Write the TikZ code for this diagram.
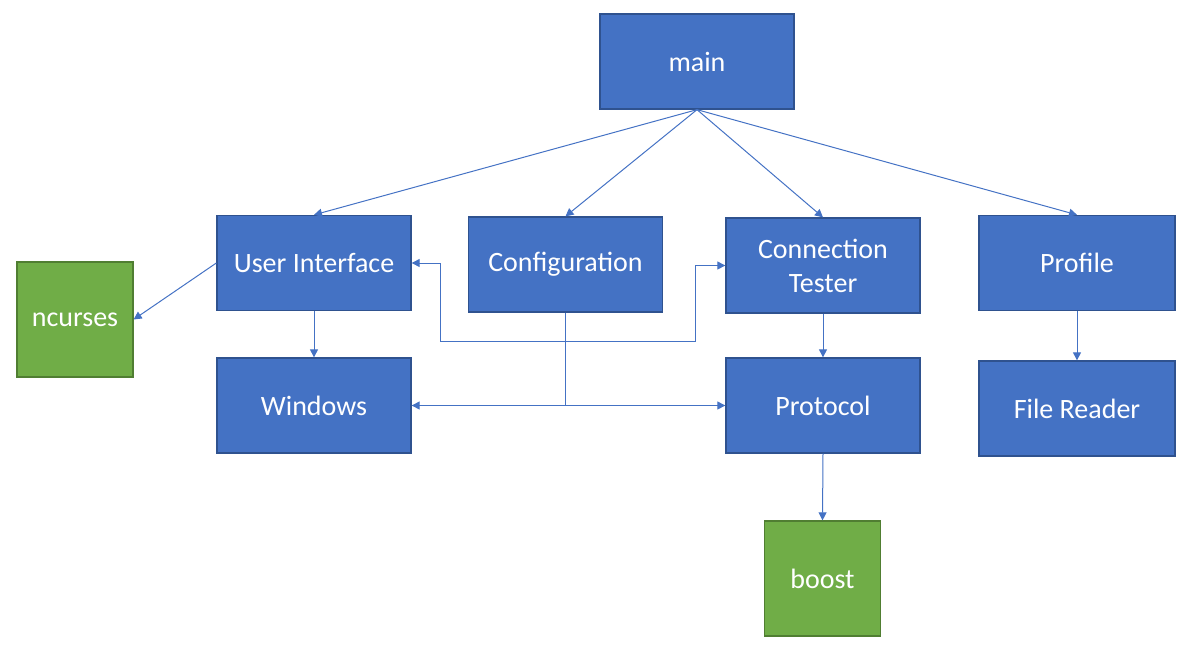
\documentclass[tikz,border=0pt]{standalone}
\usepackage{fontspec}
\setmainfont{Carlito}
\usetikzlibrary{arrows.meta}
\definecolor{bfill}{HTML}{4472C4}
\definecolor{bdraw}{HTML}{2F528F}
\definecolor{gfill}{HTML}{70AD47}
\definecolor{gdraw}{HTML}{507E32}
\begin{document}
\begin{tikzpicture}[x=1pt,y=-1pt,
  bluebox/.style={draw=bdraw,fill=bfill,line width=1.3pt,text=white,minimum width=194pt,minimum height=95pt,inner sep=0pt,align=center,font=\fontsize{28}{34}\selectfont},
  greenbox/.style={draw=gdraw,fill=gfill,line width=1.3pt,text=white,minimum width=116pt,minimum height=115pt,inner sep=0pt,align=center,font=\fontsize{28}{34}\selectfont},
  conn/.style={draw=bfill,line width=1pt,-{Triangle[length=8pt,width=8pt]}},
  conn2/.style={draw=bfill,line width=1pt,{Triangle[length=8pt,width=8pt]}-{Triangle[length=8pt,width=8pt]}},
  plain/.style={draw=bfill,line width=1pt}]
\useasboundingbox (0,0) rectangle (1200,646);
\node[bluebox] (main) at (697,61.5) {main};
\node[bluebox] (ui) at (314,263) {User Interface};
\node[bluebox] (cfg) at (565.5,264.5) {Configuration};
\node[bluebox] (ct) at (823,265.5) {Connection\\Tester};
\node[bluebox,minimum width=196pt] (prof) at (1077,263) {Profile};
\node[greenbox] (nc) at (75,319.5) {ncurses};
\node[bluebox] (win) at (314,405.5) {Windows};
\node[bluebox] (proto) at (823,405.5) {Protocol};
\node[bluebox,minimum width=196pt] (fr) at (1077,408.5) {File Reader};
\node[greenbox] (boost) at (822.5,578.5) {boost};
\coordinate (j1) at (440,341);
\coordinate (j2) at (695,341);
\coordinate (j3) at (565.5,405.5);
\draw[conn] (main.south) -- (ui.north);
\draw[conn] (main.south) -- (cfg.north);
\draw[conn] (main.south) -- (ct.north);
\draw[conn] (main.south) -- (prof.north);
\draw[conn] (ui.west) -- (nc.east);
\draw[conn] (ui.south) -- (win.north);
\draw[conn] (ct.south) -- (proto.north);
\draw[conn] (prof.south) -- (fr.north);
\draw[conn] (proto.south) -- (boost.north);
\draw[conn2] (ui.east) -| (j1) -- (j2) |- (ct.west);
\draw[plain] (cfg.south) -- (j3);
\draw[conn] (j3) -- (win.east);
\draw[conn] (j3) -- (proto.west);
\end{tikzpicture}
\end{document}
